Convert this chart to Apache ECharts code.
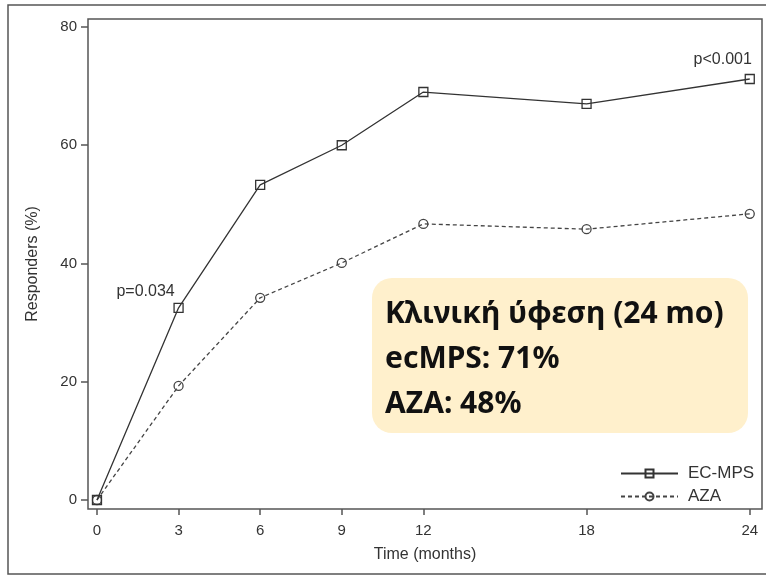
<!DOCTYPE html>
<html><head><meta charset="utf-8">
<script src="https://cdn.jsdelivr.net/npm/echarts@6/dist/echarts.min.js"></script>
<style>html,body{margin:0;padding:0;background:#fff}#c{width:766px;height:577px}</style>
</head><body><div id="c"></div>
<script>
const months = [0, 3, 6, 9, 12, 18, 24];
const ecmps = [0, 32.5, 53.3, 60.0, 69.0, 67.0, 71.2];
const aza = [0, 19.3, 34.2, 40.1, 46.7, 45.8, 48.4];
const xTicks = [0, 3, 6, 9, 12, 18, 24];
const yTicks = [0, 20, 40, 60, 80];
const seriesNames = ['EC-MPS', 'AZA'];
const pLabels = [{ month: 3, value: 32.5, text: 'p=0.034' }, { month: 24, value: 71.2, text: 'p<0.001' }];
const boxLines = ['Κλινική ύφεση (24 mo)', 'ecMPS: 71%', 'AZA: 48%'];

const font = 'Liberation Sans, Arial, Helvetica, sans-serif';
const chart = echarts.init(document.getElementById('c'), null, { renderer: 'canvas' });
const pOffsets = [[-33, -16], [-27, -19]];
chart.setOption({
  animation: false,
  backgroundColor: '#fff',
  grid: { left: 88, top: 19, right: 4, bottom: 68, show: true, borderColor: '#555', borderWidth: 1.5, containLabel: false },
  xAxis: {
    type: 'value', min: -0.33, max: 24.45,
    name: 'Time (months)', nameLocation: 'middle', nameGap: 38,
    nameTextStyle: { fontFamily: font, fontSize: 16, color: '#333' },
    axisLine: { show: false, onZero: false },
    axisTick: { show: true, inside: false, length: 6, customValues: xTicks, lineStyle: { color: '#555', width: 1.5 } },
    axisLabel: { customValues: xTicks, margin: 14, fontFamily: font, fontSize: 15, color: '#333' },
    splitLine: { show: false }
  },
  yAxis: {
    type: 'value', min: -1.52, max: 81.35,
    name: 'Responders (%)', nameLocation: 'middle', nameGap: 47,
    nameTextStyle: { fontFamily: font, fontSize: 16, color: '#333' },
    axisLine: { show: false, onZero: false },
    axisTick: { show: true, inside: false, length: 7, customValues: yTicks, lineStyle: { color: '#555', width: 1.5 } },
    axisLabel: { customValues: yTicks, margin: 11, fontFamily: font, fontSize: 15, color: '#333' },
    splitLine: { show: false }
  },
  legend: {
    orient: 'vertical', left: 615, top: 460, itemWidth: 57, itemHeight: 10, itemGap: 6,
    textStyle: { fontFamily: font, fontSize: 17, color: '#333', padding: [0, 0, 0, 5] },
    data: seriesNames
  },
  series: [
    {
      name: seriesNames[0], type: 'line', data: months.map((m, i) => [m, ecmps[i]]),
      symbol: 'rect', symbolSize: 9, z: 3,
      lineStyle: { color: '#333', width: 1.3 },
      itemStyle: { color: 'rgba(0,0,0,0)', borderColor: '#333', borderWidth: 1.3 },
      markPoint: {
        symbol: 'circle', symbolSize: 1, itemStyle: { color: 'rgba(0,0,0,0)' },
        label: { show: true, fontFamily: font, fontSize: 16, color: '#333' },
        data: pLabels.map((p, i) => ({ coord: [p.month, p.value], label: { formatter: p.text, offset: pOffsets[i] } }))
      }
    },
    {
      name: seriesNames[1], type: 'line', data: months.map((m, i) => [m, aza[i]]),
      symbol: 'circle', symbolSize: 9, z: 2,
      lineStyle: { color: '#444', width: 1.3, type: [4, 3] },
      itemStyle: { color: 'rgba(0,0,0,0)', borderColor: '#444', borderWidth: 1.3 }
    }
  ],
  graphic: [
    { type: 'rect', shape: { x: 8, y: 5, width: 780, height: 569 }, style: { fill: 'none', stroke: '#555', lineWidth: 1.5 }, silent: true, z: -1 },
    { type: 'rect', shape: { x: 372, y: 278, width: 376, height: 155, r: 20 }, style: { fill: '#fff0cc' }, z: 10 },
    { type: 'text', x: 385, y: 292, z: 11, style: { text: boxLines.join('\n'), fontFamily: 'Noto Sans, Open Sans, sans-serif', fontWeight: 'bold', fontSize: 30, lineHeight: 45, fill: '#111' } }
  ]
});
</script></body></html>
